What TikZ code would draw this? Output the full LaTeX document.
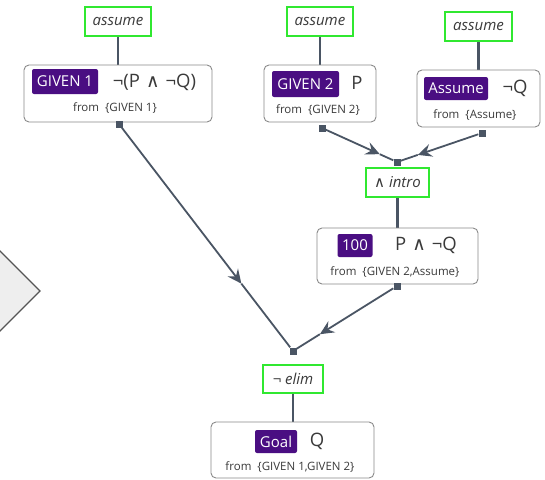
\documentclass[tikz,border=0pt]{standalone}
\usepackage{fontspec}
\setmainfont{Open Sans}
\newfontfamily\symfont{DejaVu Sans}
\usetikzlibrary{arrows.meta}
\definecolor{rulegreen}{HTML}{30E830}
\definecolor{boxgray}{HTML}{8A8A8A}
\definecolor{badgepurple}{HTML}{4A0E82}
\definecolor{linecol}{HTML}{4A5564}
\definecolor{textdark}{HTML}{3A3A3A}
\definecolor{diamondfill}{HTML}{EEEEEE}
\definecolor{diamonddraw}{HTML}{555555}
\newcommand{\myand}{{\symfont\char"2227}}
\tikzset{
  rulebox/.style={draw=rulegreen, line width=2.8pt, fill=white, inner sep=0pt,
    text=textdark, font=\fontsize{15}{17}\selectfont\itshape},
  stepbox/.style={draw=boxgray, line width=0.9pt, rounded corners=5pt, fill=white, inner sep=0pt},
  badge/.style={fill=badgepurple, text=white, rounded corners=2pt, inner sep=0pt,
    font=\fontsize{15}{17}\selectfont},
  formula/.style={text=textdark, inner sep=0pt, font=\fontsize{18.5}{20}\selectfont},
  fromtext/.style={text=textdark, inner sep=0pt, font=\fontsize{11.5}{13}\selectfont},
  conn/.style={draw=linecol, line width=2.4pt},
  flow/.style={draw=linecol, line width=1.8pt},
  tip/.style={-{Stealth[length=14pt, width=13pt, inset=5pt]}},
  port/.style={fill=linecol, minimum size=7pt, inner sep=0pt}
}
\begin{document}
\begin{tikzpicture}[x=1pt, y=-1pt]
\useasboundingbox[fill=white] (0,0) rectangle (545,479);
% left diamond (partially visible)
\begin{scope}
  \clip (0,0) rectangle (545,479);
  \draw[fill=diamondfill, draw=diamonddraw, line width=1.2pt]
    (40,291) -- (-6,245) -- (-52,291) -- (-6,337) -- cycle;
\end{scope}

% connectors rule -> step (drawn first, boxes cover the ends)
\coordinate (c1a) at (118,21.5); \coordinate (c1b) at (118,93.5);
\coordinate (c2a) at (320,21.5); \coordinate (c2b) at (320,93.5);
\coordinate (c3a) at (478.5,26.5); \coordinate (c3b) at (478.5,98.5);
\coordinate (c4a) at (397.5,182.5); \coordinate (c4b) at (397.5,256);
\coordinate (c5a) at (293,379); \coordinate (c5b) at (293,450);
\draw[conn] (c1a) -- (c1b);
\draw[conn] (c2a) -- (c2b);
\draw[conn] (c3a) -- (c3b);
\draw[conn] (c4a) -- (c4b);
\draw[conn] (c5a) -- (c5b);

% rule boxes
\node[rulebox, minimum width=66pt, minimum height=29pt] (r1) at (c1a) {assume};
\node[rulebox, minimum width=66pt, minimum height=29pt] (r2) at (c2a) {assume};
\node[rulebox, minimum width=67pt, minimum height=29pt] (r3) at (c3a) {assume};
\node[rulebox, minimum width=63pt, minimum height=29pt] (r4) at (c4a) {\myand\ intro};
\node[rulebox, minimum width=60pt, minimum height=28pt] (r5) at (c5a) {¬ elim};

% step boxes
\node[stepbox, minimum width=188pt, minimum height=57pt] (b1) at (c1b) {};
\node[stepbox, minimum width=112pt, minimum height=57pt] (b2) at (c2b) {};
\node[stepbox, minimum width=123pt, minimum height=57pt] (b3) at (c3b) {};
\node[stepbox, minimum width=161pt, minimum height=56pt] (b4) at (c4b) {};
\node[stepbox, minimum width=163pt, minimum height=56pt] (b5) at (292.5,450) {};

% box contents
\node[badge, minimum width=66pt, minimum height=25pt] (g1) at (65,81.5) {GIVEN 1};
\node[formula] (f1) at (154.5,82) {¬(P\hspace{6pt}\myand\hspace{6pt}¬Q)};
\node[fromtext] (t1) at (115,108) {from\hspace{6pt}\{GIVEN 1\}};

\node[badge, minimum width=67pt, minimum height=26pt] (g2) at (305.5,84) {GIVEN 2};
\node[formula] (f2) at (357,83) {P};
\node[fromtext] (t2) at (318,110) {from\hspace{6pt}\{GIVEN 2\}};

\node[badge, minimum width=64pt, minimum height=23pt] (g3) at (456,88.5) {Assume};
\node[formula] (f3) at (515,88) {¬Q};
\node[fromtext] (t3) at (475,115) {from\hspace{6pt}\{Assume\}};

\node[badge, minimum width=35pt, minimum height=23pt] (g4) at (355,245.5) {100};
\node[formula] (f4) at (426,245) {P\hspace{6pt}\myand\hspace{6pt}¬Q};
\node[fromtext] (t4) at (395,272) {from\hspace{6pt}\{GIVEN 2,Assume\}};

\node[badge, minimum width=42pt, minimum height=23pt] (g5) at (276,441.5) {Goal};
\node[formula] (f5) at (317,441) {Q};
\node[fromtext] (t5) at (290,467) {from\hspace{6pt}\{GIVEN 1,GIVEN 2\}};

% ports and junctions
\node[port] (s1) at (119,124) {};
\node[port] (s2) at (322,128) {};
\node[port] (s3) at (482,133) {};
\node[port] (s4) at (397,286) {};
\node[port] (j1) at (397,162) {};
\node[port] (j2) at (293,351) {};

% flow arrows
\path (s2) -- (j1) coordinate[pos=0.8] (m2);
\draw[flow, tip] (s2) -- (m2);
\draw[flow] (m2) -- (j1);
\path (s3) -- (j1) coordinate[pos=0.78] (m3);
\draw[flow, tip] (s3) -- (m3);
\draw[flow] (m3) -- (j1);
\path (s1) -- (j2) coordinate[pos=0.71] (m1);
\draw[flow, tip] (s1) -- (m1);
\draw[flow] (m1) -- (j2);
\path (s4) -- (j2) coordinate[pos=0.76] (m4);
\draw[flow, tip] (s4) -- (m4);
\draw[flow] (m4) -- (j2);
\end{tikzpicture}
\end{document}
